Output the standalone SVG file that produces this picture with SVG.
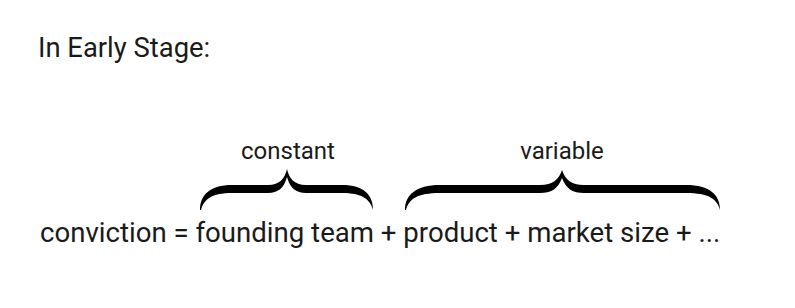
<svg xmlns="http://www.w3.org/2000/svg" width="795" height="308" viewBox="0 0 795 308">
<style>
text { font-family: Roboto, "Liberation Sans", sans-serif; fill: #1a1a1a; }
.title { font-size: 27.4px; }
.eq { font-size: 27.6px; }
.lbl { font-size: 24px; text-anchor: middle; }
.brace { fill: #000; stroke: none; }
</style>
<rect width="795" height="308" fill="#fff"/>
<g id="title"><text class="title" x="38" y="57">In Early Stage:</text></g>
<g id="equation"><text class="eq" x="40" y="242">conviction = founding team + product + market size + ...</text></g>
<g id="constant">
<path class="brace" d="M200,210 C200,195 210,185 232,185 L268,185 C280,185 285,178 287,169 C289,178 294,185 306,185 L342,185 C364,185 373,195 373,210 C370,199 362,193 342,193 L306,193 C296,193 290,188 287,177 C284,188 278,193 268,193 L232,193 C212,193 204,199 201,210 Z"/>
<text class="lbl" x="288" y="159">constant</text>
</g>
<g id="variable">
<path class="brace" d="M405,210 C405,195 416,185 440,185 L540,185 C553,185 559,179 562,170 C565,179 571,185 584,185 L686,185 C710,185 720,195 720,210 C717,199 709,193 686,193 L584,193 C573,193 566,189 562,178 C558,189 551,193 540,193 L440,193 C417,193 409,199 406,210 Z"/>
<text class="lbl" x="562" y="159">variable</text>
</g>
</svg>
